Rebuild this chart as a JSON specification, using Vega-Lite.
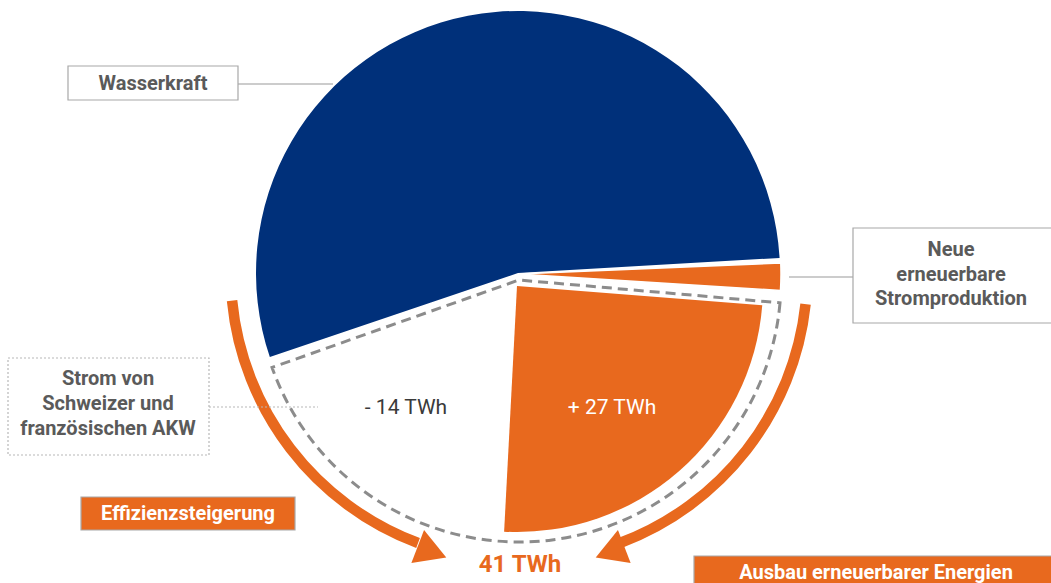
{
  "$schema": "https://vega.github.io/schema/vega-lite/v6.json",
  "width": 1051,
  "height": 583,
  "autosize": {"type": "none"},
  "padding": 0,
  "background": "white",
  "config": {"view": {"stroke": null}},
  "layer": [
    {
      "data": {"values": [
        {"pfeil": "Effizienzsteigerung", "cx": 519, "cy": 273, "t0": 200.5, "t1": 264.5},
        {"pfeil": "Ausbau", "cx": 519, "cy": 273, "t0": 96.2, "t1": 159.5}
      ]},
      "mark": {"type": "arc", "innerRadius": 283, "outerRadius": 293.5, "color": "#E8691E"},
      "encoding": {
        "x": {"field": "cx", "type": "quantitative", "scale": {"domain": [0, 1051], "nice": false, "zero": false}, "axis": null},
        "y": {"field": "cy", "type": "quantitative", "scale": {"domain": [0, 583], "reverse": true, "nice": false, "zero": false}, "axis": null},
        "theta": {"field": "t0", "type": "quantitative", "stack": null, "scale": {"domain": [0, 360], "range": [0, 6.283185307]}},
        "theta2": {"field": "t1"}
      }
    },
    {
      "data": {"values": [{"pfeil": "Effizienzsteigerung", "x": 432, "y": 552}]},
      "mark": {"type": "point", "shape": "triangle-up", "size": 1250, "filled": true, "opacity": 1, "color": "#E8691E", "angle": 111},
      "encoding": {
        "x": {"field": "x", "type": "quantitative"},
        "y": {"field": "y", "type": "quantitative"}
      }
    },
    {
      "data": {"values": [{"pfeil": "Ausbau", "x": 610, "y": 552}]},
      "mark": {"type": "point", "shape": "triangle-up", "size": 1250, "filled": true, "opacity": 1, "color": "#E8691E", "angle": 249},
      "encoding": {
        "x": {"field": "x", "type": "quantitative"},
        "y": {"field": "y", "type": "quantitative"}
      }
    },
    {
      "data": {"values": [{"teil": "Wasserkraft", "cx": 518, "cy": 273, "t0": -108.7, "t1": 86.7}]},
      "mark": {"type": "arc", "outerRadius": 262, "color": "#00307A"},
      "encoding": {
        "x": {"field": "cx", "type": "quantitative"},
        "y": {"field": "cy", "type": "quantitative"},
        "theta": {"field": "t0", "type": "quantitative", "stack": null},
        "theta2": {"field": "t1"}
      }
    },
    {
      "data": {"values": [{"teil": "Neue erneuerbare Stromproduktion", "cx": 518, "cy": 274, "t0": 87.6, "t1": 93.6}]},
      "mark": {"type": "arc", "outerRadius": 263, "color": "#E8691E", "stroke": "white", "strokeWidth": 1.5},
      "encoding": {
        "x": {"field": "cx", "type": "quantitative"},
        "y": {"field": "cy", "type": "quantitative"},
        "theta": {"field": "t0", "type": "quantitative", "stack": null},
        "theta2": {"field": "t1"}
      }
    },
    {
      "data": {"values": [{"teil": "Wegfall AKW", "cx": 519, "cy": 280, "t0": 95, "t1": 250.5}]},
      "mark": {"type": "arc", "outerRadius": 262, "fill": "white", "fillOpacity": 0, "stroke": "#8C8C8C", "strokeWidth": 3, "strokeDash": [10, 6]},
      "encoding": {
        "x": {"field": "cx", "type": "quantitative"},
        "y": {"field": "cy", "type": "quantitative"},
        "theta": {"field": "t0", "type": "quantitative", "stack": null},
        "theta2": {"field": "t1"}
      }
    },
    {
      "data": {"values": [{"teil": "Ausbau erneuerbarer Energien", "cx": 517, "cy": 286, "t0": 94.5, "t1": 183}]},
      "mark": {"type": "arc", "outerRadius": 246, "color": "#E8691E"},
      "encoding": {
        "x": {"field": "cx", "type": "quantitative"},
        "y": {"field": "cy", "type": "quantitative"},
        "theta": {"field": "t0", "type": "quantitative", "stack": null},
        "theta2": {"field": "t1"}
      }
    },
    {
      "data": {"values": [{"label": "- 14 TWh", "x": 406, "y": 408}]},
      "mark": {"type": "text", "font": "Roboto", "fontSize": 21, "color": "#3A3A3A", "align": "center", "baseline": "middle"},
      "encoding": {
        "x": {"field": "x", "type": "quantitative"},
        "y": {"field": "y", "type": "quantitative"},
        "text": {"field": "label"}
      }
    },
    {
      "data": {"values": [{"label": "+ 27 TWh", "x": 612, "y": 408}]},
      "mark": {"type": "text", "font": "Roboto", "fontSize": 21, "color": "white", "align": "center", "baseline": "middle"},
      "encoding": {
        "x": {"field": "x", "type": "quantitative"},
        "y": {"field": "y", "type": "quantitative"},
        "text": {"field": "label"}
      }
    },
    {
      "data": {"values": [{"label": "41 TWh", "x": 520, "y": 565}]},
      "mark": {"type": "text", "font": "Roboto", "fontSize": 24, "fontWeight": "bold", "color": "#E8691E", "align": "center", "baseline": "middle"},
      "encoding": {
        "x": {"field": "x", "type": "quantitative"},
        "y": {"field": "y", "type": "quantitative"},
        "text": {"field": "label"}
      }
    },
    {
      "data": {"values": [
        {"ziel": "Wasserkraft", "x": 238, "x2": 333, "y": 84},
        {"ziel": "Neue erneuerbare Stromproduktion", "x": 789, "x2": 853, "y": 277}
      ]},
      "mark": {"type": "rule", "color": "#9A9A9A", "strokeWidth": 1.2},
      "encoding": {
        "x": {"field": "x", "type": "quantitative"},
        "x2": {"field": "x2"},
        "y": {"field": "y", "type": "quantitative"}
      }
    },
    {
      "data": {"values": [{"ziel": "Strom von Schweizer und französischen AKW", "x": 209, "x2": 318, "y": 407}]},
      "mark": {"type": "rule", "color": "#B8B8B8", "strokeWidth": 1.2, "strokeDash": [2, 2]},
      "encoding": {
        "x": {"field": "x", "type": "quantitative"},
        "x2": {"field": "x2"},
        "y": {"field": "y", "type": "quantitative"}
      }
    },
    {
      "data": {"values": [
        {"box": "Wasserkraft", "x": 68, "x2": 238, "y": 66, "y2": 100},
        {"box": "Neue erneuerbare Stromproduktion", "x": 853, "x2": 1060, "y": 228, "y2": 323}
      ]},
      "mark": {"type": "rect", "fill": "white", "stroke": "#A8A8A8", "strokeWidth": 1.2},
      "encoding": {
        "x": {"field": "x", "type": "quantitative"},
        "x2": {"field": "x2"},
        "y": {"field": "y", "type": "quantitative"},
        "y2": {"field": "y2"}
      }
    },
    {
      "data": {"values": [{"box": "Strom von Schweizer und französischen AKW", "x": 8, "x2": 209, "y": 358, "y2": 455}]},
      "mark": {"type": "rect", "fill": "white", "stroke": "#B8B8B8", "strokeWidth": 1.2, "strokeDash": [2, 2]},
      "encoding": {
        "x": {"field": "x", "type": "quantitative"},
        "x2": {"field": "x2"},
        "y": {"field": "y", "type": "quantitative"},
        "y2": {"field": "y2"}
      }
    },
    {
      "data": {"values": [
        {"box": "Effizienzsteigerung", "x": 81, "x2": 295, "y": 497, "y2": 530},
        {"box": "Ausbau erneuerbarer Energien", "x": 694, "x2": 1060, "y": 556, "y2": 595}
      ]},
      "mark": {"type": "rect", "fill": "#E8691E", "stroke": "#A8A8A8", "strokeWidth": 1.2},
      "encoding": {
        "x": {"field": "x", "type": "quantitative"},
        "x2": {"field": "x2"},
        "y": {"field": "y", "type": "quantitative"},
        "y2": {"field": "y2"}
      }
    },
    {
      "data": {"values": [
        {"label": "Wasserkraft", "x": 153, "y": 84},
        {"label": "Neue", "x": 951, "y": 250},
        {"label": "erneuerbare", "x": 951, "y": 275},
        {"label": "Stromproduktion", "x": 951, "y": 299},
        {"label": "Strom von", "x": 108, "y": 379},
        {"label": "Schweizer und", "x": 108, "y": 404},
        {"label": "französischen AKW", "x": 108, "y": 429}
      ]},
      "mark": {"type": "text", "font": "Roboto", "fontSize": 20, "fontWeight": "bold", "color": "#5A5A5A", "align": "center", "baseline": "middle"},
      "encoding": {
        "x": {"field": "x", "type": "quantitative"},
        "y": {"field": "y", "type": "quantitative"},
        "text": {"field": "label"}
      }
    },
    {
      "data": {"values": [
        {"label": "Effizienzsteigerung", "x": 188, "y": 514},
        {"label": "Ausbau erneuerbarer Energien", "x": 876, "y": 573}
      ]},
      "mark": {"type": "text", "font": "Roboto", "fontSize": 20, "fontWeight": "bold", "color": "white", "align": "center", "baseline": "middle"},
      "encoding": {
        "x": {"field": "x", "type": "quantitative"},
        "y": {"field": "y", "type": "quantitative"},
        "text": {"field": "label"}
      }
    }
  ]
}
